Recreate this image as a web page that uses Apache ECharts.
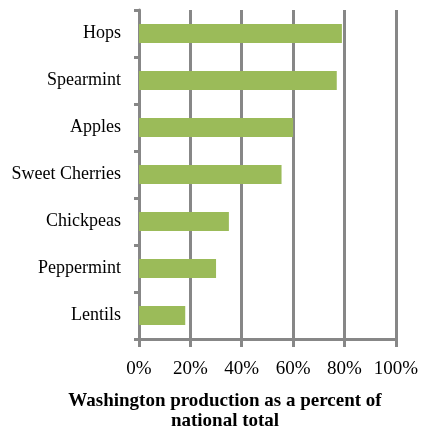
<!DOCTYPE html>
<html>
<head>
<meta charset="utf-8">
<script src="https://cdn.jsdelivr.net/npm/echarts@6/dist/echarts.min.js"></script>
<style>
html, body { margin: 0; padding: 0; background: #fff; }
#myCharts { width: 421px; height: 432px; }
</style>
</head>
<body>
<div id="myCharts"></div>
<script>
// crops, top to bottom
var crops = ["Hops", "Spearmint", "Apples", "Sweet Cherries", "Chickpeas", "Peppermint", "Lentils"];
// percent of national total
var shares = [79, 77, 60, 55.5, 35, 30, 18];
var xTicks = [0, 20, 40, 60, 80, 100];

var gray = "#878787";
var serif = "'Liberation Serif', 'DejaVu Serif', serif";

var myCharts = echarts.init(document.getElementById("myCharts"));
myCharts.setOption({
    animation: false,
    title: {
        text: "Washington production as a percent of\nnational total",
        left: 220,
        top: 386,
        textAlign: "center",
        textStyle: {
            fontFamily: serif,
            fontSize: 19,
            fontWeight: "bold",
            color: "#000",
            lineHeight: 20
        }
    },
    grid: {
        left: 139,
        right: 24,
        top: 10,
        bottom: 93
    },
    xAxis: {
        type: "value",
        min: xTicks[0],
        max: xTicks[xTicks.length - 1],
        interval: 20,
        axisLine: { show: true, lineStyle: { color: gray, width: 3 } },
        axisTick: { show: true, length: 8, lineStyle: { color: gray, width: 3 } },
        splitLine: { show: true, lineStyle: { color: gray, width: 3 } },
        axisLabel: {
            margin: 21,
            fontFamily: serif,
            fontSize: 19,
            color: "#000",
            formatter: function (v) { return v + "%"; }
        }
    },
    yAxis: {
        type: "category",
        inverse: true,
        data: crops,
        axisLine: { show: true, lineStyle: { color: gray, width: 3 } },
        axisTick: { show: true, length: 5, lineStyle: { color: gray, width: 3 } },
        axisLabel: {
            margin: 18,
            fontFamily: serif,
            fontSize: 18,
            color: "#000"
        }
    },
    series: [{
        type: "bar",
        data: shares,
        barWidth: "40%",
        itemStyle: { color: "#9BBB59" },
        z: 3
    }]
});
</script>
</body>
</html>
